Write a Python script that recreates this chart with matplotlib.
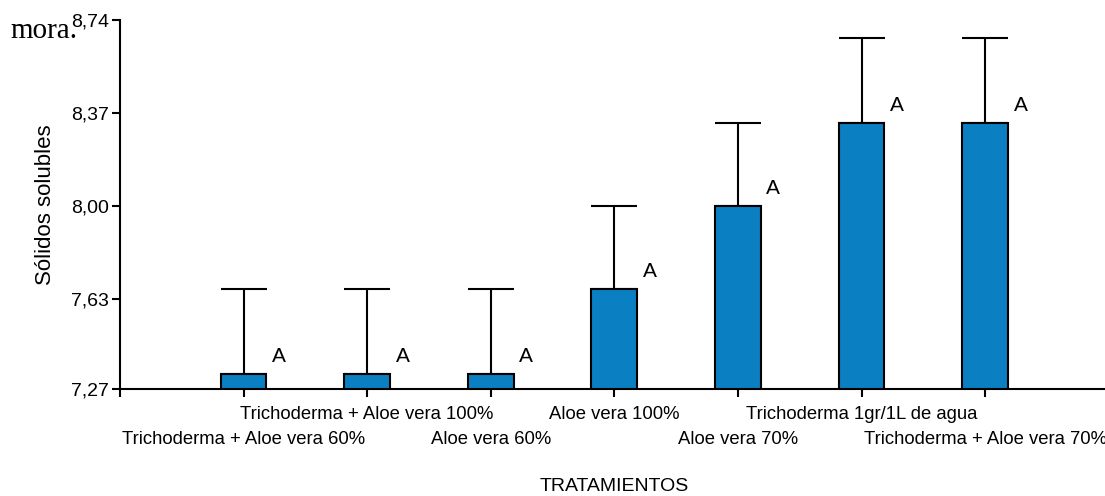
import matplotlib.pyplot as plt

# datos
tratamientos = ["Trichoderma + Aloe vera 60%", "Trichoderma + Aloe vera 100%",
                "Aloe vera 60%", "Aloe vera 100%", "Aloe vera 70%",
                "Trichoderma 1gr/1L de agua", "Trichoderma + Aloe vera 70%"]
medias = [7.33, 7.33, 7.33, 7.67, 8.00, 8.33, 8.33]
errores = [0.34, 0.34, 0.34, 0.33, 0.33, 0.34, 0.34]
letras = ["A", "A", "A", "A", "A", "A", "A"]
yticks = [7.27, 7.63, 8.00, 8.37, 8.74]

fuente = "Liberation Sans"

fig = plt.figure(figsize=(11.05, 4.96), dpi=100)
ax = fig.add_axes([0.1086, 0.2157, 0.8914, 0.7440])

x = list(range(len(tratamientos)))
ax.bar(x, medias, width=0.37, color="#0a7fc2", edgecolor="black", linewidth=1.5,
       bottom=0, zorder=2)
ax.errorbar(x, medias, yerr=[[0] * len(errores), errores], fmt="none",
            ecolor="black", elinewidth=1.5, capsize=16.5, capthick=1.5, zorder=1)

for xi, m, l in zip(x, medias, letras):
    ax.text(xi + 0.23, m + 0.03, l, fontsize=15, family=fuente, va="bottom", ha="left")

ax.set_ylim(7.27, 8.74)
ax.set_xlim(-1, 6.97)
ax.set_yticks(yticks)
ax.set_yticklabels([f"{v:.2f}".replace(".", ",") for v in yticks], family=fuente, fontsize=14)
ax.set_xticks([-1] + x)
ax.set_xticklabels([""] * (len(x) + 1))
ax.tick_params(axis="both", direction="out", length=6, width=1.5, pad=2)

# etiquetas de tratamientos alternadas en dos filas
for i, t in enumerate(tratamientos):
    yy = -0.137 if i % 2 == 0 else -0.07
    ax.text(i, yy, t, transform=ax.get_xaxis_transform(), ha="center", va="center",
            family=fuente, fontsize=13.3)

for s in ["top", "right"]:
    ax.spines[s].set_visible(False)
for s in ["left", "bottom"]:
    ax.spines[s].set_linewidth(1.5)

ax.set_ylabel("Sólidos solubles", family=fuente, fontsize=16, labelpad=11)
fig.text(0.556, 0.02, "TRATAMIENTOS", family=fuente, fontsize=14, ha="center", va="center")
fig.text(0.009, 0.9375, "mora.", family="Liberation Serif", fontsize=21, ha="left", va="center")

fig.savefig("out.png", dpi=100)
